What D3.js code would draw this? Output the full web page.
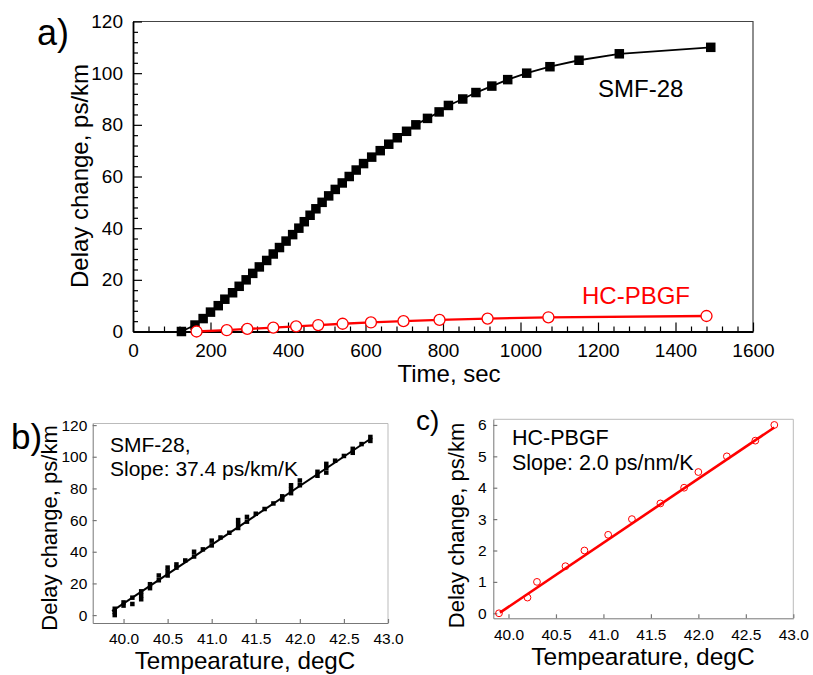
<!DOCTYPE html>
<html>
<head>
<meta charset="utf-8">
<script src="https://cdn.jsdelivr.net/npm/d3@7"></script>
<style>
  html, body { margin: 0; padding: 0; background: #fff; }
  svg { display: block; }
  svg text { font-family: "Liberation Sans", Arial, sans-serif; }
</style>
</head>
<body>
<svg id="chart" width="813" height="675"></svg>
<script>
'use strict';

// ---- panel a: delay change vs time ----
const smfTime = [125, 160, 181, 200, 220, 237, 257, 274, 292, 309, 326, 345, 362, 378, 395,
  412, 428, 442, 457, 472, 488, 505, 522, 540, 558, 576, 595, 616, 638, 660,
  682, 706, 730, 760, 790, 814, 851, 885, 926, 967, 1016, 1076, 1151, 1255, 1491];
const smfDelay = [0, 2.5, 5, 7.5, 10, 12.5, 15, 17.5, 20, 22.5, 25, 27.5, 30, 32.5, 35,
  37.5, 40, 42.5, 45, 47.5, 50, 52.5, 55, 57.5, 60, 62.5, 65, 67.5, 70, 72.5,
  75, 77.5, 80, 82.5, 85, 87.5, 90, 92.5, 95, 97.5, 100, 102.5, 105, 107.5, 110];
const hcTime = [164, 242, 295, 362, 421, 478, 541, 614, 698, 791, 915, 1072, 1480];
const hcDelay = [0, 0.5, 1, 1.5, 2, 2.5, 3, 3.5, 4, 4.5, 5, 5.5, 6];
const aTimeTicks = [0, 200, 400, 600, 800, 1000, 1200, 1400, 1600];
const aDelayTicks = [0, 20, 40, 60, 80, 100, 120];

// ---- panel b: SMF-28 delay vs temperature ----
const bTemp = [39.9, 39.9, 39.9, 40.0, 40.0, 40.1, 40.1, 40.2, 40.2, 40.2, 40.3, 40.3,
  40.4, 40.4, 40.5, 40.5, 40.5, 40.6, 40.6, 40.7, 40.8, 40.8, 40.9, 41.0, 41.0,
  41.1, 41.2, 41.3, 41.3, 41.3, 41.4, 41.4, 41.5, 41.6, 41.7, 41.8, 41.8,
  41.9, 41.9, 41.9, 42.0, 42.0, 42.2, 42.2, 42.3, 42.3, 42.3, 42.4, 42.5,
  42.6, 42.6, 42.7, 42.8, 42.8];
const bDelay = [0, 2, 4, 6, 8, 7, 11, 10, 12.5, 15, 17, 19.5,
  22, 25, 25, 27.5, 30, 30, 32, 34.5, 37, 40, 41.5, 44, 47,
  49, 52, 55, 57.5, 60, 59, 62, 64, 67, 70.5, 73, 75,
  77, 79.5, 82, 82, 85, 88, 90.5, 90, 93, 95.5, 97.5, 100.5,
  102.5, 105, 108, 110, 112.5];
const bFitTemp = [39.87, 42.82];
const bFitDelay = [2.5, 112];
const bTempTicks = [40.0, 40.5, 41.0, 41.5, 42.0, 42.5, 43.0];
const bDelayTicks = [0, 20, 40, 60, 80, 100, 120];

// ---- panel c: HC-PBGF delay vs temperature ----
const cTemp = [39.9, 40.2, 40.3, 40.6, 40.8, 41.05, 41.3, 41.6, 41.85, 42.0, 42.3, 42.6, 42.8];
const cDelay = [0, 0.5, 1, 1.5, 2, 2.5, 3, 3.5, 4, 4.5, 5, 5.5, 6];
const cFitTemp = [39.91, 42.8];
const cFitDelay = [0.02, 5.92];
const cTempTicks = [40.0, 40.5, 41.0, 41.5, 42.0, 42.5, 43.0];
const cDelayTicks = [0, 1, 2, 3, 4, 5, 6];

const RED = '#ff0000';
const svg = d3.select('#chart');
svg.append('rect').attr('width', 813).attr('height', 675).attr('fill', '#fff');

// axes helper: inward ticks, manual label placement
function drawAxes(g, x, y, o) {
  const [x0, x1] = x.range();
  const [y0, y1] = y.range();

  // top / right frame
  g.append('path')
    .attr('d', `M${x0},${y1}H${x1}V${y0}`)
    .attr('fill', 'none')
    .attr('stroke', o.frameColor)
    .attr('stroke-width', o.frameWidth);

  const xAxis = g.append('g')
    .attr('transform', `translate(0,${y0})`)
    .call(d3.axisBottom(x).tickValues(o.xTicks).tickSizeInner(-o.major).tickSizeOuter(0)
      .tickFormat(o.xFormat));
  xAxis.selectAll('text').attr('y', o.xLabelDy).attr('dy', null)
    .attr('font-size', o.tickFont).attr('fill', '#000');

  const yAxis = g.append('g')
    .attr('transform', `translate(${x0},0)`)
    .call(d3.axisLeft(y).tickValues(o.yTicks).tickSizeInner(-o.major).tickSizeOuter(0)
      .tickPadding(o.yPad).tickFormat(o.yFormat));
  yAxis.selectAll('text').attr('font-size', o.tickFont).attr('fill', '#000');

  [xAxis, yAxis].forEach(a => {
    a.attr('font-family', null).attr('font-size', null);
    a.select('.domain').attr('stroke', o.axisColor).attr('stroke-width', o.axisWidth);
    a.selectAll('.tick line').attr('stroke', o.axisColor).attr('stroke-width', 1.2);
  });

  if (o.xMinor) {
    g.append('g').attr('transform', `translate(0,${y0})`)
      .call(d3.axisBottom(x).tickValues(o.xMinor).tickSizeInner(-o.minor).tickSizeOuter(0).tickFormat(''))
      .call(a => a.select('.domain').remove())
      .selectAll('line').attr('stroke', o.axisColor).attr('stroke-width', 1.2);
  }
  if (o.yMinor) {
    g.append('g').attr('transform', `translate(${x0},0)`)
      .call(d3.axisLeft(y).tickValues(o.yMinor).tickSizeInner(-o.minor).tickSizeOuter(0).tickFormat(''))
      .call(a => a.select('.domain').remove())
      .selectAll('line').attr('stroke', o.axisColor).attr('stroke-width', 1.2);
  }
}

/* ================= panel a ================= */
const ax = d3.scaleLinear().domain([0, 1600]).range([133, 753]);
const ay = d3.scaleLinear().domain([0, 120]).range([331.5, 21.5]);
const ga = svg.append('g');

drawAxes(ga, ax, ay, {
  xTicks: aTimeTicks, yTicks: aDelayTicks,
  xMinor: d3.range(0, 1601, 40).filter(v => v % 200 !== 0),
  yMinor: d3.range(0, 121, 4).filter(v => v % 20 !== 0),
  xFormat: d3.format('d'), yFormat: d3.format('d'),
  major: 9, minor: 5, tickFont: 19, xLabelDy: 25.5, yPad: 10,
  frameColor: '#444', frameWidth: 1.2, axisColor: '#000', axisWidth: 1.8
});

const smf = smfTime.map((t, i) => ({ t, v: smfDelay[i] }));
const hc = hcTime.map((t, i) => ({ t, v: hcDelay[i] }));
const lineA = d3.line().x(d => ax(d.t)).y(d => ay(d.v));

ga.append('path').datum(smf).attr('d', lineA)
  .attr('fill', 'none').attr('stroke', '#000').attr('stroke-width', 1.8);
ga.append('path').datum(hc).attr('d', lineA)
  .attr('fill', 'none').attr('stroke', RED).attr('stroke-width', 2.3);

ga.selectAll('rect.smf').data(smf).join('rect').attr('class', 'smf')
  .attr('x', d => ax(d.t) - 4.75).attr('y', d => ay(d.v) - 4.75)
  .attr('width', 9.5).attr('height', 9.5).attr('fill', '#000');
ga.selectAll('circle.hc').data(hc).join('circle').attr('class', 'hc')
  .attr('cx', d => ax(d.t)).attr('cy', d => ay(d.v)).attr('r', 5.5)
  .attr('fill', '#fff').attr('stroke', RED).attr('stroke-width', 1.3);

ga.append('text').attr('x', 598).attr('y', 96.5).attr('font-size', 24).text('SMF-28');
ga.append('text').attr('x', 582).attr('y', 304).attr('font-size', 24).attr('fill', RED).text('HC-PBGF');
ga.append('text').attr('x', 37).attr('y', 45).attr('font-size', 36).text('a)');
ga.append('text').attr('transform', 'translate(88,176) rotate(-90)')
  .attr('text-anchor', 'middle').attr('font-size', 24).text('Delay change, ps/km');
ga.append('text').attr('x', 449).attr('y', 382)
  .attr('text-anchor', 'middle').attr('font-size', 24).text('Time, sec');

/* ================= panel b ================= */
const bx = d3.scaleLinear().domain([39.65, 43.0]).range([92.7, 388]);
const by = d3.scaleLinear().domain([-5, 121]).range([623, 423.5]);
const gb = svg.append('g');

drawAxes(gb, bx, by, {
  xTicks: bTempTicks, yTicks: bDelayTicks,
  xFormat: d3.format('.1f'), yFormat: d3.format('d'),
  major: 4, minor: 2, tickFont: 15.5, xLabelDy: 21, yPad: 5.4,
  frameColor: '#bbb', frameWidth: 1, axisColor: '#777', axisWidth: 1
});

gb.append('line')
  .attr('x1', bx(bFitTemp[0])).attr('y1', by(bFitDelay[0]))
  .attr('x2', bx(bFitTemp[1])).attr('y2', by(bFitDelay[1]))
  .attr('stroke', '#000').attr('stroke-width', 2);
gb.selectAll('rect.pt').data(bTemp.map((t, i) => ({ t, v: bDelay[i] }))).join('rect')
  .attr('class', 'pt')
  .attr('x', d => bx(d.t) - 2.25).attr('y', d => by(d.v) - 2.25)
  .attr('width', 4.5).attr('height', 4.5).attr('fill', '#000');

gb.append('text').attr('x', 110).attr('y', 451.5).attr('font-size', 21).text('SMF-28,');
gb.append('text').attr('x', 110).attr('y', 476).attr('font-size', 21).text('Slope: 37.4 ps/km/K');
gb.append('text').attr('x', 11).attr('y', 449).attr('font-size', 35).text('b)');
gb.append('text').attr('transform', 'translate(57,528) rotate(-90)')
  .attr('text-anchor', 'middle').attr('font-size', 22).text('Delay change, ps/km');
gb.append('text').attr('x', 245).attr('y', 669)
  .attr('text-anchor', 'middle').attr('font-size', 24.2).text('Tempearature, degC');

/* ================= panel c ================= */
const cx = d3.scaleLinear().domain([39.84, 43.0]).range([493.3, 793.3]);
const cy = d3.scaleLinear().domain([-0.16, 6.18]).range([618.3, 419.3]);
const gc = svg.append('g');

drawAxes(gc, cx, cy, {
  xTicks: cTempTicks, yTicks: cDelayTicks,
  xFormat: d3.format('.1f'), yFormat: d3.format('d'),
  major: 4, minor: 2, tickFont: 15.5, xLabelDy: 21.7, yPad: 6.6,
  frameColor: '#bbb', frameWidth: 1, axisColor: '#777', axisWidth: 1
});

gc.append('line')
  .attr('x1', cx(cFitTemp[0])).attr('y1', cy(cFitDelay[0]))
  .attr('x2', cx(cFitTemp[1])).attr('y2', cy(cFitDelay[1]))
  .attr('stroke', RED).attr('stroke-width', 2.6);
gc.selectAll('circle.pt').data(cTemp.map((t, i) => ({ t, v: cDelay[i] }))).join('circle')
  .attr('class', 'pt')
  .attr('cx', d => cx(d.t)).attr('cy', d => cy(d.v)).attr('r', 3.4)
  .attr('fill', 'none').attr('stroke', RED).attr('stroke-width', 1);

gc.append('text').attr('x', 512).attr('y', 445).attr('font-size', 21.5).text('HC-PBGF');
gc.append('text').attr('x', 512).attr('y', 470).attr('font-size', 21.5).text('Slope: 2.0 ps/nm/K');
gc.append('text').attr('x', 416).attr('y', 430).attr('font-size', 28).text('c)');
gc.append('text').attr('transform', 'translate(464,525.5) rotate(-90)')
  .attr('text-anchor', 'middle').attr('font-size', 22).text('Delay change, ps/km');
gc.append('text').attr('x', 643).attr('y', 665)
  .attr('text-anchor', 'middle').attr('font-size', 24.5).text('Tempearature, degC');
</script>
</body>
</html>
